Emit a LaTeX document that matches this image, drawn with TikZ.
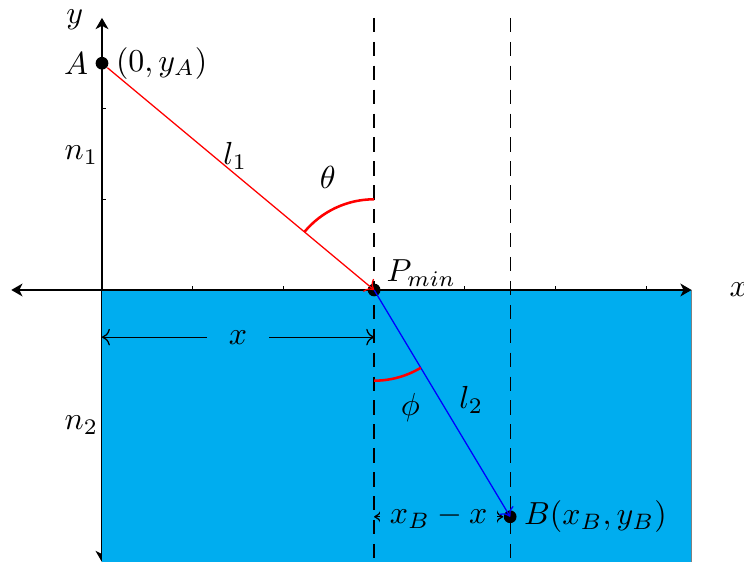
\documentclass[tikz,border=0pt]{standalone}
\usetikzlibrary{arrows.meta}
\definecolor{water}{RGB}{0,173,239}
\tikzset{
  axis/.style={thick, {Stealth[length=3.5pt, width=4pt, inset=1pt]}-{Stealth[length=3.5pt, width=4pt, inset=1pt]}},
  tick/.style={thin},
  guide/.style={dash pattern=on 4.5pt off 3pt},
  dot/.style={circle, fill=black, inner sep=0pt, minimum size=4pt},
  incident/.style={red, ->},
  refracted/.style={blue, ->},
  anglearc/.style={red, thick},
  dimline/.style={<->, thin},
  dimlabel/.style={fill=water, inner xsep=3pt, inner ysep=1pt}
}
\begin{document}
\begin{tikzpicture}
  \useasboundingbox (-1.1245,-3.021) rectangle (7.078,3.197);
  % axes and second medium
  \coordinate (xl) at (-1,0);
  \coordinate (xr) at (6.5,0);
  \coordinate (yb) at (0,-3);
  \coordinate (yt) at (0,3);
  \draw[axis] (yb) -- (yt);
  \fill[water] (0,0) rectangle (6.5,-3);
  \draw[gray, thin] (6.5,0) -- (6.5,-3);
  \draw[axis] (xl) -- (xr);
  \foreach \i in {1,...,6} \draw[tick] (\i,0) -- (\i,0.04);
  \foreach \j in {1,2} \draw[tick] (0,\j) -- (0.04,\j);
  \node (xlab) at (7.02,0) {$x$};
  \node (ylab) at (-0.3,2.98) {$y$};

  % normals
  \coordinate (n1t) at (3,3);
  \coordinate (n1b) at (3,-3.03);
  \coordinate (n2t) at (4.5,3);
  \coordinate (n2b) at (4.5,-3.03);
  \draw[guide] (n1t) -- (n1b);
  \draw[guide] (n2t) -- (n2b);

  % points
  \node[dot] (A) at (0,2.5) {};
  \node[dot] (P) at (3,0) {};
  \node[dot] (B) at (4.5,-2.5) {};

  % distances
  \coordinate (dxa) at (0,-0.52);
  \coordinate (dxb) at (3,-0.52);
  \draw[dimline] (dxa) -- node[dimlabel, inner xsep=7pt] {$x$} (dxb);
  \coordinate (dba) at (3,-2.5);
  \draw[dimline] (dba) -- node[dimlabel] {$x_B-x$} (B);

  % rays
  \draw[incident] (A) -- (P.center);
  \draw[refracted] (P.center) -- (B.center);
  \node[anchor=east, inner sep=2pt] (Alab) at (A.west) {$A$};
  \node[anchor=west, inner sep=2pt] (Acoord) at (A.east) {$(0,y_A)$};
  \node (Plab) at (3.52,0.19) {$P_{min}$};
  \node[anchor=west, inner sep=2pt] (Blab) at (B.east) {$B(x_B,y_B)$};

  % angles
  \draw[anglearc] ([shift={(90:1)}]P.center) arc[start angle=90, end angle=140.19, radius=1];
  \draw[anglearc] ([shift={(270:1)}]P.center) arc[start angle=270, end angle=300.96, radius=1];
  \node (theta) at (2.49,1.24) {$\theta$};
  \node (phi) at (3.4,-1.3) {$\phi$};
  \node (l1) at (1.47,1.48) {$l_1$};
  \node (l2) at (4.07,-1.21) {$l_2$};
  \node[anchor=east, inner sep=1pt] (n1) at (0,1.49) {$n_1$};
  \node[anchor=east, inner sep=1pt] (n2) at (0,-1.49) {$n_2$};
\end{tikzpicture}
\end{document}
